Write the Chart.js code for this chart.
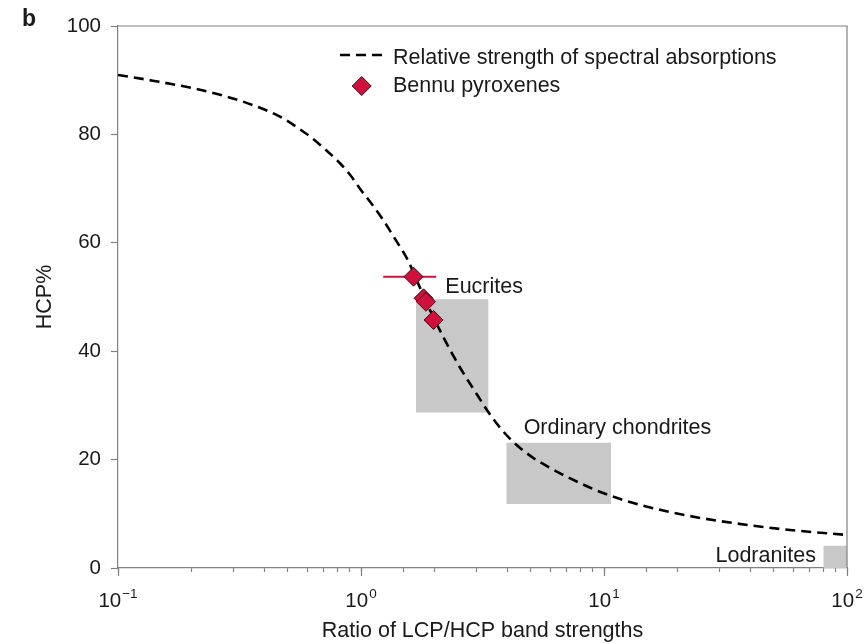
<!DOCTYPE html>
<html><head><meta charset="utf-8">
<script src="https://cdn.jsdelivr.net/npm/chart.js@4.4.1/dist/chart.umd.min.js"></script>
<style>html,body{margin:0;padding:0;background:#fff}#wrap{width:866px;height:644px}</style>
</head><body><div id="wrap"><canvas id="c" width="866" height="644"></canvas></div>
<script>
// ---- data ----
const curveX = [0.1,0.139,0.204,0.281,0.374,0.478,0.562,0.618,0.699,0.821,0.903,0.992,1.123,1.234,1.357,1.550,1.688,1.838,2.002,2.181,2.562,3.010,3.341,3.744,4.236,5.121,6.017,7.068,9.665,13.22,18.24,24.95,34.12,47.1,64.4,100];
const curveY = [90.96,89.91,88.51,86.96,85.11,82.97,80.90,79.58,77.58,74.63,72.51,69.93,66.79,64.21,61.25,57.01,53.32,49.45,45.94,42.62,36.90,31.92,28.78,25.83,23.25,20.30,18.45,16.79,14.02,11.99,10.42,9.23,8.30,7.47,6.83,6.09];
const bennuX = [1.645,1.809,1.851,1.989];
const bennuY = [53.75,49.76,49.13,45.76];
const errX = [1.234,2.040];           // horizontal error bar of first point
const errY = 53.75;
const boxNames = ['Eucrites','Ordinary chondrites','Lodranites'];
const boxX0 = [1.683,3.963,79.9];
const boxX1 = [3.350,10.69,100];
const boxY0 = [28.7,11.8,0];
const boxY1 = [49.6,23.1,4.1];
const labelX = [2.223,4.670,28.76];   // label anchor (left, baseline) in data coords
const labelY = [50.8,24.7,1.05];
const yTicks = [0,20,40,60,80,100];
const xTickValues = [0.1,1,10,100];
const xTickExps = ['\u22121','0','1','2'];
const legendLabels = ['Relative strength of spectral absorptions','Bennu pyroxenes'];

// ---- styles ----
const FONT = "'Liberation Sans', Arial, Helvetica, sans-serif";
const TXT = '#1a1a1a';
const FRAME = '#808080';
const RED = '#d0103c';
const REDBORDER = '#3a0a12';
const BOX = '#c8c8c8';
const DASH = [10,6];

const datasets = [];
datasets.push({
  label:'bennu', data: bennuX.map((v,i)=>({x:v,y:bennuY[i]})), showLine:false,
  pointStyle:'rectRot', pointRadius:9.5, backgroundColor:RED, borderColor:REDBORDER, borderWidth:1, order:1
});
datasets.push({
  label:'err', data: errX.map(v=>({x:v,y:errY})), showLine:true, pointRadius:0,
  borderColor:RED, borderWidth:2, order:2
});
datasets.push({
  label:'curve', data: curveX.map((v,i)=>({x:v,y:curveY[i]})), showLine:true, pointRadius:0,
  borderColor:'#000', borderWidth:2.6, borderDash:DASH, cubicInterpolationMode:'monotone', order:3
});
boxNames.forEach((n,i)=>{
  datasets.push({
    label:n, data:[{x:boxX0[i],y:boxY1[i]},{x:boxX1[i],y:boxY1[i]}], showLine:true, pointRadius:0,
    borderColor:'rgba(0,0,0,0)', borderWidth:0, backgroundColor:BOX, fill:{value:boxY0[i]}, order:4
  });
});

const annot = {
  id:'annot',
  afterDraw(chart){
    const {ctx, chartArea:a, scales:{x,y}} = chart;
    ctx.save();
    // top & right frame
    ctx.strokeStyle = FRAME; ctx.lineWidth = 1.2;
    ctx.beginPath();
    ctx.moveTo(a.left, a.top); ctx.lineTo(a.right, a.top); ctx.lineTo(a.right, a.bottom);
    ctx.stroke();
    // major x ticks longer
    xTickValues.forEach(v=>{
      const px = Math.round(x.getPixelForValue(v))+0.5;
      ctx.beginPath(); ctx.moveTo(px, a.bottom); ctx.lineTo(px, a.bottom+8); ctx.stroke();
    });
    // x tick labels with superscripts
    ctx.fillStyle = TXT; ctx.textBaseline = 'alphabetic';
    xTickValues.forEach((v,i)=>{
      const px = x.getPixelForValue(v);
      ctx.font = '20.5px ' + FONT;
      const w1 = ctx.measureText('10').width;
      ctx.font = '13.5px ' + FONT;
      const w2 = ctx.measureText(xTickExps[i]).width;
      const left = px - (w1 + 1 + w2)/2;
      ctx.font = '20.5px ' + FONT; ctx.textAlign='left';
      ctx.fillText('10', left, 607);
      ctx.font = '13.5px ' + FONT;
      ctx.fillText(xTickExps[i], left + w1 + 1, 598);
    });
    // region labels
    ctx.font = '21.5px ' + FONT; ctx.textAlign='left';
    boxNames.forEach((n,i)=>{
      ctx.fillText(n, x.getPixelForValue(labelX[i]), y.getPixelForValue(labelY[i]));
    });
    // legend
    ctx.strokeStyle = '#000'; ctx.lineWidth = 2.6; ctx.setLineDash(DASH);
    ctx.beginPath(); ctx.moveTo(340,55); ctx.lineTo(382,55); ctx.stroke();
    ctx.setLineDash([]);
    ctx.fillText(legendLabels[0], 393, 63.5);
    const cx = 361.7, cy = 86, r = 9.5;
    ctx.beginPath(); ctx.moveTo(cx-r,cy); ctx.lineTo(cx,cy-r); ctx.lineTo(cx+r,cy); ctx.lineTo(cx,cy+r); ctx.closePath();
    ctx.fillStyle = RED; ctx.fill(); ctx.strokeStyle = REDBORDER; ctx.lineWidth = 1; ctx.stroke();
    ctx.fillStyle = TXT;
    ctx.fillText(legendLabels[1], 393, 91.5);
    // panel letter
    ctx.font = 'bold 23px ' + FONT;
    ctx.fillText('b', 22, 26);
    ctx.restore();
  }
};

new Chart(document.getElementById('c'), {
  type:'scatter',
  data:{datasets},
  options:{
    responsive:false, animation:false, events:[],
    layout:{padding:{top:26,right:19,left:0,bottom:0}},
    plugins:{legend:{display:false}, tooltip:{enabled:false}},
    scales:{
      x:{
        type:'logarithmic', min:0.1, max:100,
        afterFit(s){ s.height = 76; },
        border:{display:true,color:FRAME,width:1.2},
        grid:{drawOnChartArea:false, drawTicks:true, tickLength:4, tickColor:FRAME, tickWidth:1.2},
        ticks:{autoSkip:false, callback:()=> '', font:{size:1}},
        title:{display:true, text:'Ratio of LCP/HCP band strengths', color:TXT, font:{family:FONT,size:21.5}, padding:{top:0,bottom:0}}
      },
      y:{
        type:'linear', min:0, max:100,
        afterBuildTicks(s){ s.ticks = yTicks.map(v=>({value:v})); },
        afterFit(s){ s.width = 118; },
        border:{display:true,color:FRAME,width:1.2},
        grid:{drawOnChartArea:false, drawTicks:true, tickLength:7, tickColor:FRAME, tickWidth:1.2},
        ticks:{color:TXT, padding:10, font:{family:FONT,size:20.5}},
        title:{display:true, text:'HCP%', color:TXT, font:{family:FONT,size:21.5}, padding:{top:32,bottom:0}}
      }
    }
  },
  plugins:[annot]
});
</script>
</body></html>
